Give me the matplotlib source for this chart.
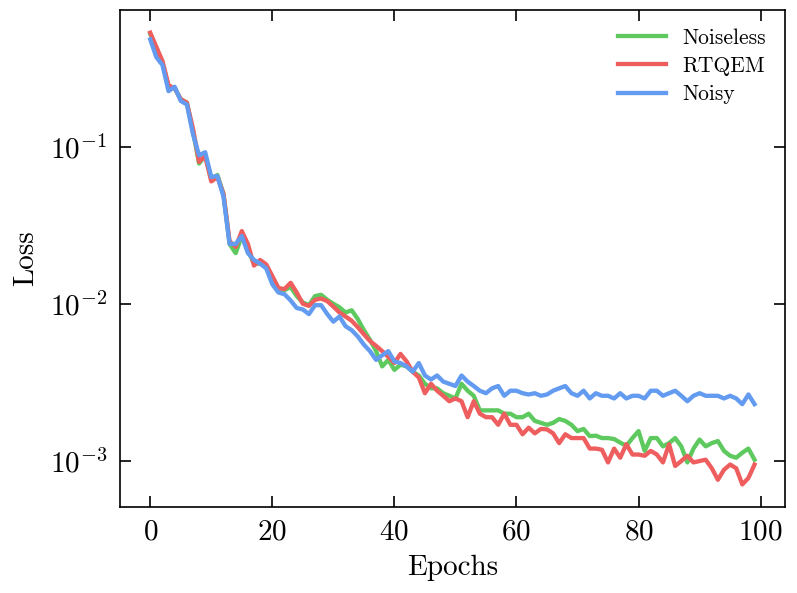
import numpy as np
import matplotlib
matplotlib.use("Agg")
import matplotlib.pyplot as plt
from matplotlib.ticker import NullLocator

# style: serif / computer modern look, ticks inward on all sides
plt.rcParams['font.family'] = 'serif'
plt.rcParams['font.serif'] = ['cmr10', 'DejaVu Serif']
plt.rcParams['mathtext.fontset'] = 'cm'
plt.rcParams['axes.formatter.use_mathtext'] = True
plt.rcParams['font.size'] = 21
plt.rcParams['axes.linewidth'] = 1.2
for ax_ in ('xtick', 'ytick'):
    plt.rcParams[ax_ + '.direction'] = 'in'
    plt.rcParams[ax_ + '.major.size'] = 8
    plt.rcParams[ax_ + '.major.width'] = 1.2
plt.rcParams['xtick.major.pad'] = 9
plt.rcParams['ytick.major.pad'] = 9
plt.rcParams['xtick.top'] = True
plt.rcParams['ytick.right'] = True

# data (epochs 0..99)
epochs = np.arange(100)

noiseless = [0.52, 0.42, 0.34, 0.24, 0.235, 0.20, 0.19, 0.125, 0.078, 0.088,
             0.062, 0.066, 0.050, 0.024, 0.021, 0.027, 0.022, 0.018, 0.018, 0.0175,
             0.0148, 0.0125, 0.0122, 0.0128, 0.0112, 0.0102, 0.0098, 0.0112, 0.0114, 0.0106,
             0.0100, 0.0095, 0.0088, 0.0091, 0.0080, 0.0068, 0.0059, 0.0050, 0.0040, 0.0044,
             0.0038, 0.0041, 0.0040, 0.0037, 0.0035, 0.0031, 0.0029, 0.0029, 0.0027, 0.0026,
             0.0025, 0.0031, 0.0028, 0.0026, 0.0021, 0.0021, 0.0021, 0.0021, 0.0020, 0.0020,
             0.0019, 0.0019, 0.0020, 0.0018, 0.00175, 0.0017, 0.00175, 0.00185, 0.0018, 0.0017,
             0.00155, 0.0016, 0.00144, 0.00145, 0.0014, 0.0014, 0.00138, 0.00131, 0.00125, 0.0014,
             0.00155, 0.00116, 0.0014, 0.0014, 0.00124, 0.0013, 0.0014, 0.00124, 0.00098, 0.0012,
             0.00137, 0.00124, 0.0013, 0.00134, 0.00116, 0.00108, 0.00105, 0.00113, 0.0012, 0.00102]

rtqem = [0.53, 0.43, 0.35, 0.245, 0.235, 0.20, 0.19, 0.13, 0.080, 0.087,
         0.060, 0.064, 0.050, 0.025, 0.023, 0.029, 0.024, 0.0175, 0.019, 0.0178,
         0.015, 0.0126, 0.0124, 0.0136, 0.0118, 0.0100, 0.0097, 0.0106, 0.0108, 0.0104,
         0.0096, 0.0088, 0.0083, 0.0078, 0.0071, 0.0064, 0.0058, 0.0054, 0.0050, 0.0046,
         0.0042, 0.0048, 0.0043, 0.0037, 0.0034, 0.0027, 0.0031, 0.0028, 0.0026, 0.0024,
         0.0025, 0.0024, 0.0019, 0.0024, 0.0020, 0.0019, 0.0019, 0.0017, 0.0020, 0.0017,
         0.0017, 0.00148, 0.00163, 0.0015, 0.0016, 0.00159, 0.0015, 0.0013, 0.00148, 0.0014,
         0.0014, 0.0014, 0.0012, 0.0012, 0.00118, 0.00098, 0.0012, 0.00105, 0.00128, 0.0011,
         0.0011, 0.00108, 0.00116, 0.0011, 0.00098, 0.00128, 0.00093, 0.0010, 0.00108, 0.00098,
         0.0010, 0.00102, 0.0009, 0.00076, 0.00088, 0.00095, 0.0009, 0.00071, 0.00078, 0.00095]

noisy = [0.48, 0.37, 0.33, 0.225, 0.24, 0.195, 0.185, 0.12, 0.088, 0.092,
         0.064, 0.065, 0.048, 0.024, 0.024, 0.027, 0.021, 0.019, 0.018, 0.0168,
         0.0133, 0.0118, 0.0115, 0.0105, 0.0094, 0.0092, 0.0086, 0.0098, 0.0098, 0.0086,
         0.0077, 0.0083, 0.0072, 0.0068, 0.0062, 0.0055, 0.0050, 0.0044, 0.0047, 0.0050,
         0.0043, 0.0042, 0.0040, 0.0037, 0.0042, 0.0035, 0.0033, 0.0035, 0.0032, 0.0031,
         0.0030, 0.0035, 0.0032, 0.0030, 0.0028, 0.0027, 0.0029, 0.0030, 0.0026, 0.0028,
         0.0028, 0.0027, 0.00265, 0.0027, 0.0026, 0.00265, 0.0028, 0.0029, 0.0030, 0.0027,
         0.0026, 0.0028, 0.0025, 0.0027, 0.0026, 0.0026, 0.0025, 0.0027, 0.0025, 0.0026,
         0.0026, 0.0025, 0.0028, 0.0028, 0.0026, 0.0027, 0.0028, 0.0026, 0.0024, 0.0026,
         0.0027, 0.0026, 0.0026, 0.0026, 0.0025, 0.0026, 0.0025, 0.0023, 0.00265, 0.0023]

fig = plt.figure(figsize=(7.97, 5.93), dpi=100)
ax = fig.add_axes([0.1506, 0.145, 0.834, 0.838])

ax.plot(epochs, noiseless, color='#5ec95e', lw=3.1, label='Noiseless')
ax.plot(epochs, rtqem, color='#ef5e5e', lw=3.1, label='RTQEM')
ax.plot(epochs, noisy, color='#629bf0', lw=3.1, label='Noisy')

ax.set_yscale('log')
ax.yaxis.set_minor_locator(NullLocator())
ax.set_xticks([0, 20, 40, 60, 80, 100])
ax.set_xlabel('Epochs', labelpad=6)
ax.set_ylabel('Loss', labelpad=8)
ax.legend(loc='upper right', frameon=False, fontsize=15.5, handlelength=2.2,
          labelspacing=0.4, borderaxespad=0.45)

plt.savefig('out.png', dpi=100)
